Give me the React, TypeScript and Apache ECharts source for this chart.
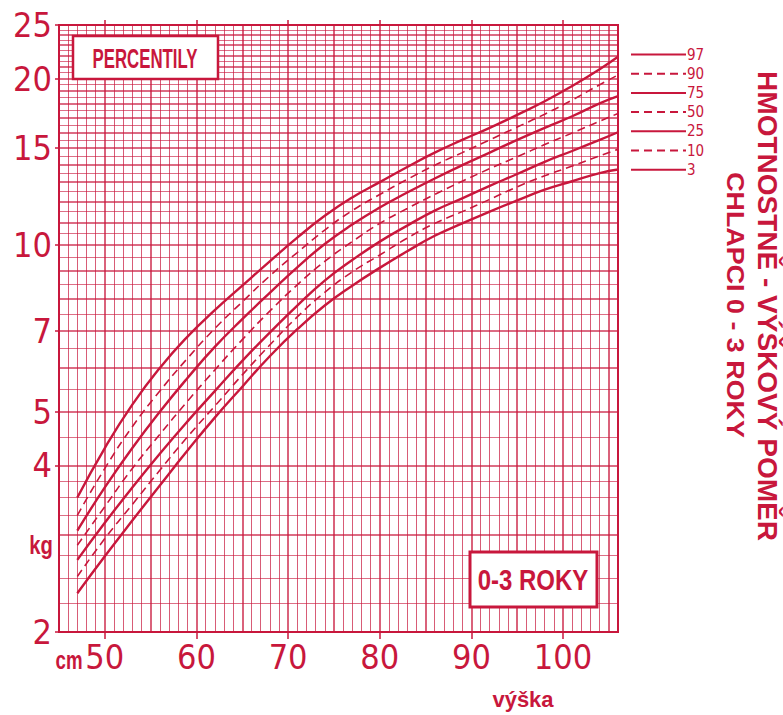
import React, { useEffect, useRef } from 'react';
import * as echarts from 'echarts';

const RED = '#c8173c';
const NARROW = '"Liberation Sans Narrow", "DejaVu Sans Condensed", "Liberation Sans", sans-serif';
const SANS = '"Liberation Sans", Arial, sans-serif';

// body length (cm) at which the percentile weights are read
const heightCm = [47, 50, 53, 56, 59, 62, 65, 68, 71, 74, 77, 80, 83, 86, 89, 92, 95, 98, 101, 104, 106];

// weight (kg) per percentile
const p97 = [3.5, 4.3, 5.15, 6.0, 6.83, 7.63, 8.45, 9.35, 10.32, 11.3, 12.2, 13.0, 13.85, 14.7, 15.5, 16.3, 17.2, 18.2, 19.4, 20.8, 21.9];
const p90 = [3.25, 3.95, 4.7, 5.45, 6.24, 7.07, 7.9, 8.8, 9.7, 10.65, 11.55, 12.35, 13.15, 13.95, 14.7, 15.5, 16.35, 17.25, 18.3, 19.5, 20.3];
const p75 = [3.05, 3.65, 4.3, 5.0, 5.75, 6.55, 7.35, 8.2, 9.12, 10.05, 10.9, 11.7, 12.45, 13.2, 13.95, 14.7, 15.5, 16.3, 17.1, 18.05, 18.6];
const p50 = [2.87, 3.37, 3.95, 4.55, 5.22, 5.95, 6.75, 7.6, 8.48, 9.35, 10.15, 10.95, 11.65, 12.35, 13.05, 13.75, 14.45, 15.2, 15.95, 16.75, 17.3];
const p25 = [2.7, 3.15, 3.65, 4.2, 4.8, 5.45, 6.18, 6.95, 7.78, 8.63, 9.4, 10.15, 10.85, 11.55, 12.15, 12.8, 13.45, 14.15, 14.8, 15.5, 16.0];
const p10 = [2.52, 2.95, 3.4, 3.92, 4.5, 5.12, 5.83, 6.6, 7.42, 8.22, 8.95, 9.6, 10.3, 10.95, 11.5, 12.1, 12.75, 13.35, 13.9, 14.5, 14.9];
const p3 = [2.35, 2.74, 3.18, 3.68, 4.25, 4.88, 5.55, 6.3, 7.05, 7.78, 8.45, 9.1, 9.75, 10.4, 10.95, 11.5, 12.05, 12.6, 13.05, 13.5, 13.7];

const percentileNames = ['97', '90', '75', '50', '25', '10', '3'];
const percentileValues = [p97, p90, p75, p50, p25, p10, p3];
const dashedCurves = ['90', '50', '10'];

// axis labels
const weightTicks = [2, 4, 5, 7, 10, 15, 20, 25];
const lengthTicks = [50, 60, 70, 80, 90, 100];

const X_MIN = 45;
const X_MAX = 106;
const Y_MIN = 2;
const Y_MAX = 25;

function paperLines() {
  const data: any[] = [];
  // horizontal paper lines: quarter kilo below 4 kg, half kilo above
  const kgLines: number[] = [];
  for (let q = 9; q <= 15; q++) kgLines.push(q * 0.25);
  for (let h = 8; h <= 49; h++) kgLines.push(h * 0.5);
  kgLines.forEach((v) => {
    const major = Math.abs(v - Math.round(v)) < 1e-9;
    data.push({
      yAxis: v,
      lineStyle: { color: RED, width: major ? 1.5 : 1, opacity: major ? 0.85 : 0.62, type: 'solid' },
    });
  });
  // vertical lines: every centimetre, heavier every 5 cm
  for (let c = X_MIN + 1; c < X_MAX; c++) {
    const major = c % 5 === 0;
    data.push({
      xAxis: c,
      lineStyle: { color: RED, width: major ? 1.5 : 1, opacity: major ? 0.9 : 0.7, type: 'solid' },
    });
  }
  return data;
}

export default function App() {
  const ref = useRef<HTMLDivElement>(null);

  useEffect(() => {
    if (!ref.current) return;
    const chart = echarts.init(ref.current, undefined, { renderer: 'svg' });

    const series = percentileNames.map((name, i) => {
      const dashed = dashedCurves.includes(name);
      const s: any = {
        type: 'line',
        name,
        data: heightCm.map((h, j) => [h, percentileValues[i][j]]),
        xAxisIndex: 0,
        yAxisIndex: 0,
        smooth: 0.5,
        symbol: 'none',
        z: 3,
        itemStyle: { color: RED },
        lineStyle: { color: RED, width: dashed ? 1.6 : 2.4, type: dashed ? [8, 5] : 'solid' },
        emphasis: { disabled: true },
      };
      if (i === 0) {
        s.markLine = {
          silent: true,
          z: 1,
          symbol: ['none', 'none'],
          label: { show: false },
          emphasis: { disabled: true },
          animation: false,
          data: paperLines(),
        };
      }
      return s;
    });

    const logTicks = weightTicks.map((v) => Math.log10(v));

    chart.setOption({
      animation: false,
      backgroundColor: '#ffffff',
      grid: {
        left: 59,
        top: 25,
        right: 165,
        bottom: 83,
        show: true,
        borderColor: RED,
        borderWidth: 2,
        backgroundColor: 'transparent',
      },
      legend: {
        orient: 'vertical',
        left: 625,
        top: 42,
        itemWidth: 55,
        itemHeight: 14,
        itemGap: 4.2,
        selectedMode: false,
        data: percentileNames,
        itemStyle: { opacity: 0, borderWidth: 0 },
        textStyle: { color: RED, fontSize: 15, fontFamily: NARROW, padding: [0, 0, 0, -4] },
      },
      xAxis: [
        {
          type: 'value',
          min: X_MIN,
          max: X_MAX,
          position: 'bottom',
          axisLine: { show: true, lineStyle: { color: RED, width: 2 } },
          axisTick: { show: true, customValues: lengthTicks, length: 7, lineStyle: { color: RED, width: 1.5 } },
          axisLabel: { customValues: lengthTicks, color: RED, fontSize: 34, fontFamily: NARROW, margin: 8 },
          splitLine: { show: false },
        },
        {
          type: 'value',
          min: X_MIN,
          max: X_MAX,
          position: 'top',
          axisLine: { show: false },
          axisTick: { show: true, customValues: lengthTicks, length: 5, lineStyle: { color: RED, width: 1.5 } },
          axisLabel: { show: false },
          splitLine: { show: false },
        },
      ],
      yAxis: [
        {
          type: 'log',
          logBase: 10,
          min: Y_MIN,
          max: Y_MAX,
          axisLine: { show: false },
          axisTick: { show: false },
          axisLabel: { show: false },
          splitLine: { show: false },
        },
        {
          type: 'value',
          min: Math.log10(Y_MIN),
          max: Math.log10(Y_MAX),
          position: 'left',
          axisLine: { show: true, lineStyle: { color: RED, width: 2 } },
          axisTick: { show: true, customValues: logTicks, length: 4, lineStyle: { color: RED, width: 1.5 } },
          axisLabel: {
            customValues: logTicks,
            formatter: (v: number) => String(Math.round(Math.pow(10, v))),
            color: RED,
            fontSize: 34,
            fontFamily: NARROW,
            margin: 7,
          },
          splitLine: { show: false },
        },
      ],
      series,
      graphic: [
        {
          type: 'rect',
          z: 10,
          shape: { x: 73, y: 36, width: 145, height: 43 },
          style: { fill: '#ffffff', stroke: RED, lineWidth: 2.5 },
        },
        {
          type: 'text',
          z: 11,
          x: 145,
          y: 58,
          scaleX: 0.6,
          style: { text: 'PERCENTILY', fill: RED, fontSize: 28, fontWeight: 'bold', fontFamily: SANS, align: 'center', verticalAlign: 'middle' },
        },
        {
          type: 'rect',
          z: 10,
          shape: { x: 470, y: 552, width: 127, height: 55 },
          style: { fill: '#ffffff', stroke: RED, lineWidth: 3 },
        },
        {
          type: 'text',
          z: 11,
          x: 533,
          y: 580,
          scaleX: 0.8,
          style: { text: '0-3 ROKY', fill: RED, fontSize: 30, fontWeight: 'bold', fontFamily: SANS, align: 'center', verticalAlign: 'middle' },
        },
        {
          type: 'text',
          z: 11,
          x: 767,
          y: 306,
          rotation: -Math.PI / 2,
          style: { text: 'HMOTNOSTNĚ - VÝŠKOVÝ POMĚR', fill: RED, fontSize: 28, fontWeight: 'bold', fontFamily: SANS, align: 'center', verticalAlign: 'middle' },
        },
        {
          type: 'text',
          z: 11,
          x: 735,
          y: 305,
          rotation: -Math.PI / 2,
          scaleX: 1.12,
          style: { text: 'CHLAPCI 0 - 3 ROKY', fill: RED, fontSize: 24, fontWeight: 'bold', fontFamily: SANS, align: 'center', verticalAlign: 'middle' },
        },
        {
          type: 'text',
          z: 11,
          x: 41,
          y: 545,
          scaleX: 0.78,
          style: { text: 'kg', fill: RED, fontSize: 26, fontWeight: 'bold', fontFamily: SANS, align: 'center', verticalAlign: 'middle' },
        },
        {
          type: 'text',
          z: 11,
          x: 69,
          y: 660,
          scaleX: 0.72,
          style: { text: 'cm', fill: RED, fontSize: 26, fontWeight: 'bold', fontFamily: SANS, align: 'center', verticalAlign: 'middle' },
        },
        {
          type: 'text',
          z: 11,
          x: 523,
          y: 699,
          style: { text: 'výška', fill: RED, fontSize: 22, fontWeight: 'bold', fontFamily: SANS, align: 'center', verticalAlign: 'middle' },
        },
      ],
    });

    return () => chart.dispose();
  }, []);

  return (
    <div
      ref={ref}
      style={{ position: 'absolute', left: 0, top: 0, width: 783, height: 715, background: '#ffffff' }}
    />
  );
}
